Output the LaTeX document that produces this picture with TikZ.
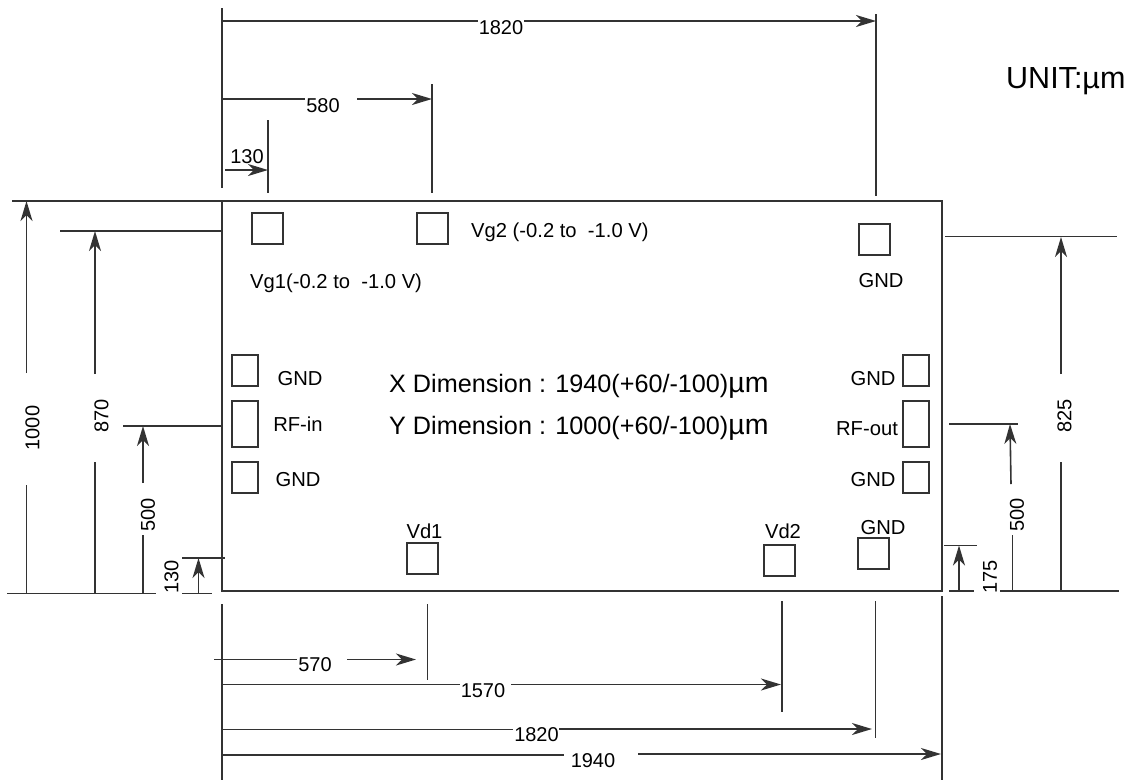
\documentclass[tikz,border=0pt]{standalone}
\usepackage{fontspec}
\setmainfont{Liberation Sans}
\usetikzlibrary{arrows.meta}
\tikzset{
  x=1pt,y=-1pt,
  dimline/.style={line width=1.6pt,black!80},
  dimarrow/.style={dimline,-{Stealth[length=20pt,width=12pt,inset=6pt]}},
  pad/.style={draw=black!80,line width=1.3pt,minimum width=#1,inner sep=0pt,outer sep=0pt,anchor=north west},
  lbl/.style={inner sep=0pt,font=\fontsize{20.2}{22}\selectfont},
  dimlbl/.style={inner sep=0pt,font=\fontsize{20}{22}\selectfont},
  biglbl/.style={inner sep=0pt,anchor=base west,font=\fontsize{25.2}{28}\selectfont},
  unitlbl/.style={inner sep=0pt,anchor=base west,font=\fontsize{30.5}{32}\selectfont},
}
\newcommand{\padbox}[6]{\node[pad=#4,minimum height=#5] (#1) at (#2,#3) {};}
\newcommand{\umu}{{\fontsize{28.5}{28}\selectfont µm}}
\begin{document}
\begin{tikzpicture}
\useasboundingbox (0,0) rectangle (1133,780);
% chip outline
\draw[dimline] (222,201) -- (942,201) -- (942,591) -- (222,591) -- cycle;
\draw[dimline] (12,201) -- (222,201);
% top extension lines and dimensions
\draw[dimline] (222,8) -- (222,188);
\draw[dimline] (876,14) -- (876,196);
\draw[dimline] (432,84) -- (432,193);
\draw[dimline] (268,120) -- (268,193);
\node[dimlbl] (t1820) at (501,27.5) {1820};
\draw[dimline] (222,21) -- (478,21);
\draw[dimarrow] (524,21) -- (876,21);
\node[dimlbl] (t580) at (323,106) {580};
\draw[dimline] (222,99) -- (305,99);
\draw[dimarrow] (357,99) -- (432,99);
\node[dimlbl] (t130a) at (247,157) {130};
\draw[dimarrow] (225,170) -- (268,170);
% left dimensions
\draw[dimline] (60,231) -- (222,231);
\draw[dimline] (123,426) -- (222,426);
\draw[dimline] (182,558) -- (225,558);
\draw[dimline] (7,593.5) -- (156,593.5);
\draw[dimline] (182,593.5) -- (212,593.5);
\draw[dimarrow] (26.5,373) -- (26.5,201);
\draw[dimline] (26.5,485) -- (26.5,593.5);
\node[dimlbl,rotate=90] (l1000) at (32.5,428) {1000};
\draw[dimarrow] (95,374) -- (95,231);
\draw[dimline] (95,462) -- (95,593.5);
\node[dimlbl,rotate=90] (l870) at (101.5,416) {870};
\draw[dimarrow] (143,483) -- (143,426);
\draw[dimline] (143,535) -- (143,593.5);
\node[dimlbl,rotate=90] (l500) at (148,515) {500};
\draw[dimarrow] (198.5,593.5) -- (198.5,558);
\node[dimlbl,rotate=90] (l130) at (171.5,577) {130};
% right dimensions
\draw[dimline] (945,236.5) -- (1117,236.5);
\draw[dimline] (949,424) -- (1018,424);
\draw[dimline] (944,545.5) -- (977,545.5);
\draw[dimline] (949,591) -- (974,591);
\draw[dimline] (1000,591) -- (1119,591);
\draw[dimarrow] (1061,374) -- (1061,237);
\draw[dimline] (1061,462) -- (1061,591);
\node[dimlbl,rotate=90] (r825) at (1064.5,416) {825};
\draw[dimarrow] (1011,484) -- (1010,424);
\draw[dimline] (1012.5,535) -- (1012.5,591);
\node[dimlbl,rotate=90] (r500) at (1017,515) {500};
\draw[dimarrow] (959,591) -- (959,545.5);
\node[dimlbl,rotate=90] (r175) at (990,577) {175};
% bottom dimensions
\draw[dimline] (222,604) -- (222,780);
\draw[dimline] (427.5,604) -- (427.5,680);
\draw[dimline] (782,601) -- (782,712);
\draw[dimline] (875.5,601) -- (875.5,738);
\draw[dimline] (942,596) -- (942,780);
\draw[dimline] (214,659.5) -- (297,659.5);
\draw[dimarrow] (347,659.5) -- (416,659.5);
\node[dimlbl] (b570) at (315,665) {570};
\draw[dimline] (222,684.5) -- (460,684.5);
\draw[dimarrow] (511,684.5) -- (781,684.5);
\node[dimlbl] (b1570) at (483,690.5) {1570};
\draw[dimline] (222,729.5) -- (513,729.5);
\draw[dimarrow] (559,729) -- (872,729);
\node[dimlbl] (b1820) at (536.5,734.5) {1820};
\draw[dimline] (222,755) -- (564,755);
\draw[dimarrow] (638,754) -- (941,754);
\node[dimlbl] (b1940) at (593,761) {1940};
% pads
\padbox{vg1}{252}{213}{31pt}{31pt}{}
\padbox{vg2}{417}{213}{31pt}{31pt}{}
\padbox{gndtr}{859}{224}{31pt}{31pt}{}
\padbox{gndl1}{232}{355}{26pt}{31pt}{}
\padbox{rfin}{232}{401}{26pt}{46pt}{}
\padbox{gndl2}{232}{462}{26pt}{31pt}{}
\padbox{gndr1}{903}{355}{26pt}{31pt}{}
\padbox{rfout}{903}{401}{26pt}{46pt}{}
\padbox{gndr2}{903}{462}{26pt}{31pt}{}
\padbox{vd1}{407}{543}{31pt}{31pt}{}
\padbox{vd2}{764}{545}{31pt}{31pt}{}
\padbox{gndbr}{858}{538}{31pt}{31pt}{}
% pad labels
\node[lbl,anchor=west] (tvg1) at (250,283) {Vg1(-0.2 to\ \ -1.0 V)};
\node[lbl,anchor=west] (tvg2) at (471,232) {Vg2 (-0.2 to\ \ -1.0 V)};
\node[lbl] (tgtr) at (881,281) {GND};
\node[lbl] (tg1) at (300,379) {GND};
\node[lbl] (trfi) at (298,424) {RF-in};
\node[lbl] (tg2) at (298,480) {GND};
\node[lbl] (tg3) at (873,379) {GND};
\node[lbl] (trfo) at (867,429) {RF-out};
\node[lbl] (tg4) at (873,480) {GND};
\node[lbl] (tvd1) at (424.5,531) {Vd1};
\node[lbl] (tvd2) at (783,531) {Vd2};
\node[lbl] (tgbr) at (883,528) {GND};
% central text
\node[biglbl] (xdim) at (389,392) {X Dimension : 1940(+60/-100)\umu};
\node[biglbl] (ydim) at (389,434) {Y Dimension : 1000(+60/-100)\umu};
\node[unitlbl] (unit) at (1006,88) {UNIT:µm};
\end{tikzpicture}
\end{document}
